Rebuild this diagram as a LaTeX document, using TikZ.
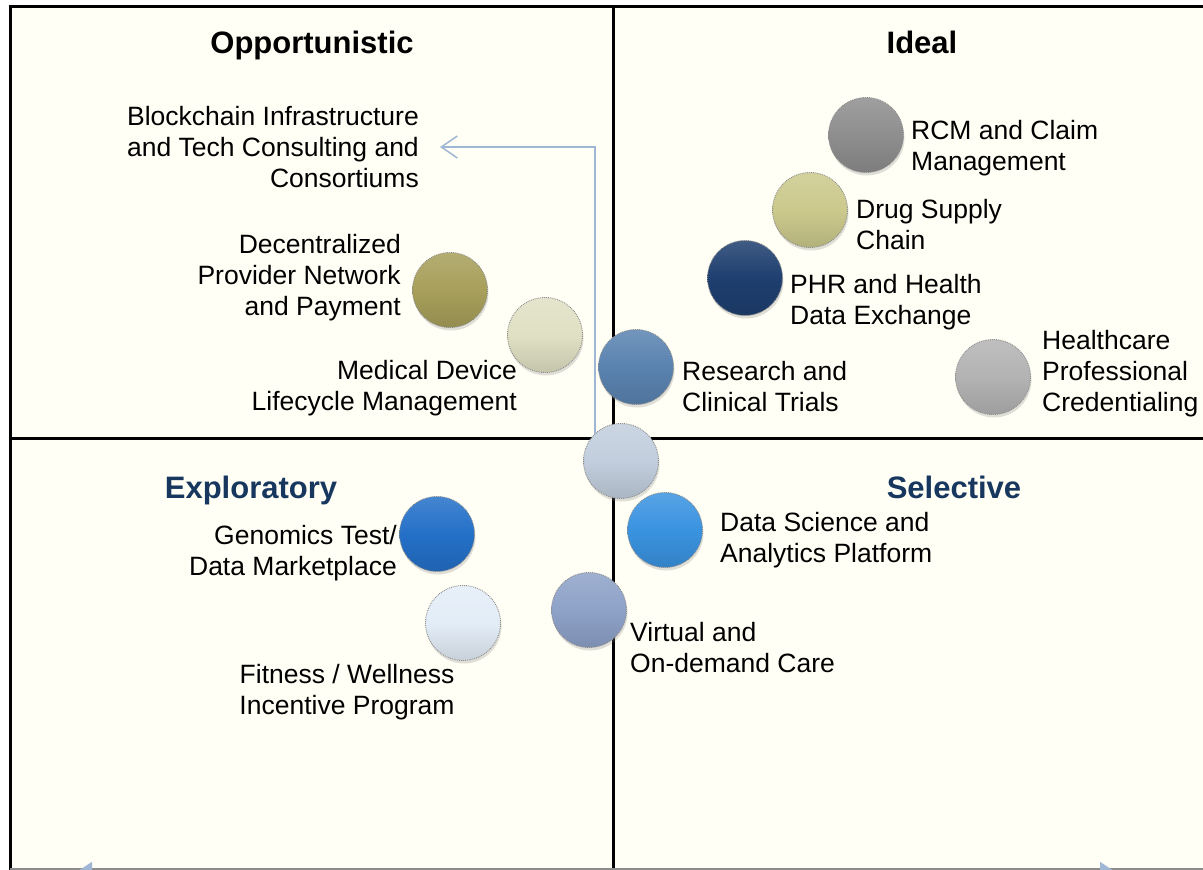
\documentclass[tikz,border=0pt]{standalone}
\usepackage{fontspec}
\setmainfont{Liberation Sans}
\usetikzlibrary{arrows.meta, positioning, shadows}

\definecolor{paper}{HTML}{FFFFF5}
\definecolor{headblue}{HTML}{17375E}
\definecolor{arrblue}{HTML}{9FB6D4}
\definecolor{cRcm}{HTML}{8E8E8E}
\definecolor{cDrug}{HTML}{CBC98C}
\definecolor{cPhr}{HTML}{1E3F6F}
\definecolor{cRes}{HTML}{5A83B0}
\definecolor{cMid}{HTML}{C2CEDD}
\definecolor{cDsa}{HTML}{3A93E0}
\definecolor{cVir}{HTML}{8EA2C8}
\definecolor{cDec}{HTML}{A79F5A}
\definecolor{cMed}{HTML}{E0E0C4}
\definecolor{cHcp}{HTML}{B3B3B3}
\definecolor{cGen}{HTML}{2470C8}
\definecolor{cFit}{HTML}{E3EDF7}

\begin{document}
\begin{tikzpicture}[
  x=1pt, y=-1pt,
  bub/.style={circle, minimum size=75pt, inner sep=0pt,
    draw=black!45, densely dotted, line width=0.9pt,
    top color=#1!85!white, bottom color=#1!88!black, middle color=#1,
    drop shadow={shadow xshift=1pt, shadow yshift=-3pt, opacity=0.25}},
  lbl/.style={font=\fontsize{26.5}{31}\selectfont, inner sep=0pt},
  head/.style={font=\fontsize{31}{36}\selectfont\bfseries, inner sep=0pt, anchor=base},
  frame/.style={line width=3pt, black},
  conn/.style={draw=arrblue, line width=1.5pt,
    -{Straight Barb[length=16pt, width=22pt]}},
  axisline/.style={draw=arrblue, line width=1.5pt,
    {Triangle[length=20pt, width=26pt]}-{Triangle[length=20pt, width=26pt]}},
]
  \useasboundingbox (0,0) rectangle (1203,870);
  \clip (0,0) rectangle (1203,870);
  \fill[paper] (10,5) rectangle (1203,870);

  % quadrant frame
  \draw[frame] (8.5,6.5) -- (1203,6.5);
  \draw[frame] (10,5) -- (10,870);
  \draw[frame] (613.5,5) -- (613.5,870);
  \draw[frame] (10,438) -- (1203,438);
  \draw[black!45, line width=2pt] (10,868.5) -- (1203,868.5);

  % axis tips below the frame
  \coordinate (axl) at (72,875);
  \coordinate (axr) at (1120,875);
  \draw[axisline] (axl) -- (axr);

  % quadrant titles
  \node[head] (opp) at (312,53) {Opportunistic};
  \node[head] (ideal) at (922,53) {Ideal};
  \node[head, text=headblue] (expl) at (251,498) {Exploratory};
  \node[head, text=headblue] (sel) at (954,498) {Selective};

  % arrow to the consulting label
  \node[lbl, anchor=east, align=right] (bc) at (419,147)
    {Blockchain Infrastructure\\and Tech Consulting and\\Consortiums};
  \coordinate (tailpt) at (595,438);
  \coordinate (headpt) at ([xshift=21pt]bc.east);
  \draw[conn] (tailpt) |- (headpt);

  % bubbles
  \node[bub=cRcm] (rcm) at (866,135) {};
  \node[bub=cDrug] (drug) at (810,210) {};
  \node[bub=cPhr] (phr) at (745,278) {};
  \node[bub=cHcp] (hcp) at (993,377) {};
  \node[bub=cDec] (dec) at (450,290) {};
  \node[bub=cMed] (med) at (545,335) {};
  \node[bub=cRes] (res) at (636,367) {};
  \node[bub=cMid] (mid) at (621,461) {};
  \node[bub=cDsa] (dsa) at (665,530) {};
  \node[bub=cGen] (gen) at (437,534) {};
  \node[bub=cVir] (vir) at (589,610) {};
  \node[bub=cFit] (fit) at (463,623) {};

  % labels
  \node[lbl, anchor=west, align=left] (rcmtxt) at (911,148) {RCM and Claim\\Management};
  \node[lbl, anchor=west, align=left] (drugtxt) at (856,225) {Drug Supply\\Chain};
  \node[lbl, anchor=west, align=left] (phrtxt) at (790,302) {PHR and Health\\Data Exchange};
  \node[lbl, anchor=west, align=left] (hcptxt) at (1042,374) {Healthcare\\Professional\\Credentialing};
  \node[lbl, anchor=east, align=right] (dectxt) at (401,278) {Decentralized\\Provider Network\\and Payment};
  \node[lbl, anchor=east, align=right] (medtxt) at (517,388) {Medical Device\\Lifecycle Management};
  \node[lbl, anchor=west, align=left] (restxt) at (682,387) {Research and\\Clinical Trials};
  \node[lbl, anchor=west, align=left] (dsatxt) at (720,540) {Data Science and\\Analytics Platform};
  \node[lbl, anchor=east, align=right] (gentxt) at (397,553) {Genomics Test/\\Data Marketplace};
  \node[lbl, anchor=west, align=left] (virtxt) at (630,648) {Virtual and\\On-demand Care};
  \node[lbl, align=center] (fittxt) at (347,692) {Fitness / Wellness\\Incentive Program};
\end{tikzpicture}
\end{document}
